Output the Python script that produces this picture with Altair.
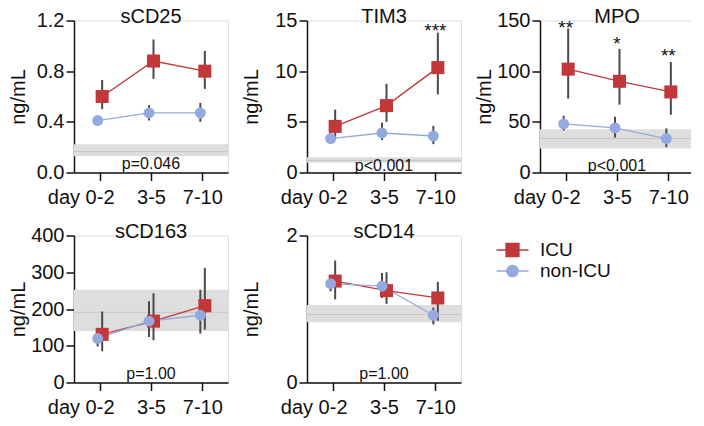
import altair as alt
import pandas as pd

FONT = "Liberation Sans"

days = ["0-2", "3-5", "7-10"]
groups = ["ICU", "non-ICU"]
group_colors = ["#C1373A", "#94AADF"]
markers = ["sCD25", "TIM3", "MPO", "sCD163", "sCD14"]

icu_mean = {"sCD25": [0.60, 0.88, 0.80], "TIM3": [4.55, 6.6, 10.35],
            "MPO": [102, 90, 79.5], "sCD163": [131, 167, 209], "sCD14": [1.38, 1.25, 1.15]}
icu_lo = {"sCD25": [0.50, 0.74, 0.66], "TIM3": [3.45, 5.0, 7.7],
          "MPO": [73, 67, 57], "sCD163": [85, 115, 144], "sCD14": [1.13, 1.07, 0.84]}
icu_hi = {"sCD25": [0.73, 1.05, 0.96], "TIM3": [6.2, 8.75, 13.8],
          "MPO": [142, 122, 109], "sCD163": [193, 243, 312], "sCD14": [1.66, 1.50, 1.37]}

non_mean = {"sCD25": [0.41, 0.47, 0.47], "TIM3": [3.35, 3.9, 3.6],
            "MPO": [48, 44, 33.5], "sCD163": [120, 167, 183], "sCD14": [1.345, 1.31, 0.915]}
non_lo = {"sCD25": [0.39, 0.41, 0.40], "TIM3": [2.9, 3.2, 2.8],
          "MPO": [41.5, 34.5, 25], "sCD163": [98, 124, 133], "sCD14": [1.24, 1.15, 0.79]}
non_hi = {"sCD25": [0.43, 0.53, 0.55], "TIM3": [3.9, 4.9, 4.6],
          "MPO": [56, 55, 43.5], "sCD163": [133, 221, 252], "sCD14": [1.40, 1.49, 1.02]}

ref_lo = {"sCD25": 0.129, "TIM3": 0.97, "MPO": 23.8, "sCD163": 140, "sCD14": 0.82}
ref_mid = {"sCD25": 0.165, "TIM3": 1.19, "MPO": 33.5, "sCD163": 191, "sCD14": 0.925}
ref_hi = {"sCD25": 0.224, "TIM3": 1.51, "MPO": 42.8, "sCD163": 252.5, "sCD14": 1.055}

y_ticks = {"sCD25": [0, 0.4, 0.8, 1.2], "TIM3": [0, 5, 10, 15], "MPO": [0, 50, 100, 150],
           "sCD163": [0, 100, 200, 300, 400], "sCD14": [0, 1, 2]}
y_format = {"sCD25": ".1f", "TIM3": "d", "MPO": "d", "sCD163": "d", "sCD14": "d"}

p_text = {"sCD25": "p=0.046", "TIM3": "p<0.001", "MPO": "p<0.001", "sCD163": "p=1.00", "sCD14": "p=1.00"}
p_y = {"sCD25": 0.08, "TIM3": 0.84, "MPO": 8.4, "sCD163": 28.6, "sCD14": 0.143}

star_day = {"TIM3": ["7-10"], "MPO": ["0-2", "3-5", "7-10"]}
star_label = {"TIM3": ["***"], "MPO": ["**", "*", "**"]}
star_y = {"TIM3": [14.4], "MPO": [147, 131, 119]}

W = 154
AX = dict(labelFont=FONT, labelFontSize=20, titleFont=FONT, titleFontSize=20,
          titleFontWeight="normal", domainColor="#111111", tickColor="#111111",
          domainWidth=1.5, tickWidth=1.5, tickSize=8, labelColor="#111111",
          titleColor="#111111", grid=False)

sq_path = "M-2,0H2M-0.8,-0.8H0.8V0.8H-0.8Z"
ci_path = "M-2,0H2M0.7,0A0.7,0.7 0 1,1 -0.7,0A0.7,0.7 0 1,1 0.7,0Z"


def panel(m, height, title_offset, with_legend=False):
    rows = []
    for g, mean, lo, hi in [("ICU", icu_mean[m], icu_lo[m], icu_hi[m]),
                            ("non-ICU", non_mean[m], non_lo[m], non_hi[m])]:
        for d, v, l, h in zip(days, mean, lo, hi):
            rows.append(dict(group=g, day=d, mean=v, lo=l, hi=h))
    df = pd.DataFrame(rows)
    ref = pd.DataFrame([dict(lo=ref_lo[m], mid=ref_mid[m], hi=ref_hi[m])])
    pdf = pd.DataFrame([dict(day="3-5", y=p_y[m], label=p_text[m])])

    yscale = alt.Scale(domain=[0, y_ticks[m][-1]], nice=False, zero=True)
    yaxis = alt.Axis(values=y_ticks[m], format=y_format[m], title="ng/mL",
                     labelPadding=2, titlePadding=1, minExtent=45, maxExtent=45, **AX)
    xaxis = alt.Axis(title=None, labelAngle=0, labelPadding=7,
                     labelExpr="datum.value == '0-2' ? 'day 0-2' : datum.value",
                     labelOffset={"condition": {"test": "datum.value == '0-2'", "value": -19}, "value": 0},
                     **AX)
    X = alt.X("day:O", sort=days, scale=alt.Scale(type="point", padding=0.5), axis=xaxis)
    XO = alt.XOffset("group:N", scale=alt.Scale(type="point", domain=groups, range=[2.5, -2], padding=0))
    C = alt.Color("group:N", scale=alt.Scale(domain=groups, range=group_colors), legend=None)

    band = alt.Chart(ref).mark_rect(color="#DEDEDE").encode(
        y=alt.Y("lo:Q", scale=yscale, axis=yaxis), y2="hi:Q")
    mid = alt.Chart(ref).mark_rule(color="#C6C6C6", strokeWidth=1).encode(
        y=alt.Y("mid:Q", scale=yscale, axis=yaxis))
    err = alt.Chart(df).mark_rule(color="#4A4A4A", strokeWidth=2).encode(
        x=X, xOffset=XO, y=alt.Y("lo:Q", scale=yscale, axis=yaxis), y2="hi:Q")
    line = alt.Chart(df).mark_line(strokeWidth=1.3).encode(
        x=X, xOffset=XO, y=alt.Y("mean:Q", scale=yscale, axis=yaxis), color=C)
    sq = alt.Chart(df).transform_filter("datum.group == 'ICU'").mark_point(
        shape="square", filled=True, opacity=1, size=170).encode(
        x=X, xOffset=XO, y=alt.Y("mean:Q", scale=yscale, axis=yaxis), color=C)
    ci = alt.Chart(df).transform_filter("datum.group == 'non-ICU'").mark_point(
        shape="circle", filled=True, opacity=1, size=120).encode(
        x=X, xOffset=XO, y=alt.Y("mean:Q", scale=yscale, axis=yaxis), color=C)
    ptxt = alt.Chart(pdf).mark_text(font=FONT, fontSize=16, color="#111111",
                                    baseline="middle", dy=2).encode(
        x=X, y=alt.Y("y:Q", scale=yscale, axis=yaxis), text="label:N")
    layers = [band, mid, err, line, sq, ci, ptxt]
    if m in star_day:
        sdf = pd.DataFrame(dict(day=star_day[m], label=star_label[m], y=star_y[m]))
        stars = alt.Chart(sdf).mark_text(font=FONT, fontSize=19, color="#111111",
                                         baseline="middle", dy=4).encode(
            x=X, y=alt.Y("y:Q", scale=yscale, axis=yaxis), text="label:N")
        layers.append(stars)
    if with_legend:
        leg = alt.Legend(title=None, orient="none", legendX=196, legendY=5,
                         labelFont=FONT, labelFontSize=19, labelColor="#111111",
                         symbolSize=256, symbolStrokeWidth=1.5, symbolOpacity=1,
                         labelOffset=18, rowPadding=1)
        lg = alt.Chart(df).transform_filter("false").mark_point(filled=True).encode(
            fill=alt.Fill("group:N", scale=alt.Scale(domain=groups, range=group_colors), legend=leg),
            stroke=alt.Stroke("group:N", scale=alt.Scale(domain=groups, range=group_colors), legend=leg),
            shape=alt.Shape("group:N", scale=alt.Scale(domain=groups, range=[sq_path, ci_path]), legend=leg))
        layers.append(lg)
    return alt.layer(*layers).properties(
        width=W, height=height,
        title=alt.TitleParams(m, font=FONT, fontSize=20, fontWeight="normal", color="#111111",
                              anchor="middle", frame="group", baseline="alphabetic",
                              offset=title_offset))


RES = dict(fill="independent", stroke="independent", shape="independent")
row1 = alt.hconcat(panel("sCD25", 152, -32), panel("TIM3", 152, -32), panel("MPO", 152, -32),
                   spacing=11)
row2 = alt.hconcat(panel("sCD163", 147, -32.5), panel("sCD14", 147, -32.5, with_legend=True),
                   spacing=11).resolve_legend(**RES)
chart = alt.vconcat(row1, row2, spacing=13).resolve_legend(**RES).properties(
    padding={"left": -1, "top": -2.5, "right": -4, "bottom": 0}
).configure_view(stroke=None).configure(font=FONT)

chart.save("out.html", embed_options={"renderer": "svg", "actions": False})
